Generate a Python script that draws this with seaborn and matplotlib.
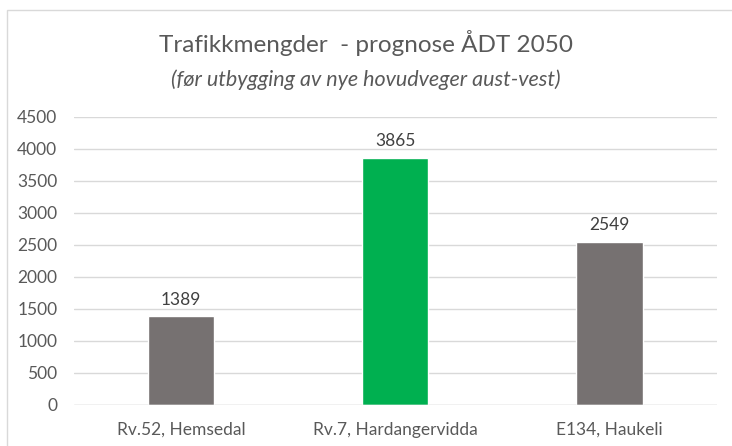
import matplotlib
matplotlib.use("Agg")
import matplotlib.pyplot as plt
import seaborn as sns
import pandas as pd
from matplotlib.patches import Rectangle

# data
strekninger = ["Rv.52, Hemsedal", "Rv.7, Hardangervidda", "E134, Haukeli"]
adt_2050 = [1389, 3865, 2549]
farger = ["#767171", "#00B050", "#767171"]
y_ticks = [0, 500, 1000, 1500, 2000, 2500, 3000, 3500, 4000, 4500]

df = pd.DataFrame({"strekning": strekninger, "adt": adt_2050})

sns.set_style("white")
plt.rcParams["font.family"] = ["Lato", "DejaVu Sans"]

fig = plt.figure(figsize=(7.32, 4.46), dpi=100)
ax = fig.add_axes([0.101, 0.092, 0.878, 0.646])

sns.barplot(data=df, x="strekning", y="adt", hue="strekning",
            palette=farger, width=0.31, saturation=1, legend=False, ax=ax)

for cont in ax.containers:
    ax.bar_label(cont, padding=6, fontsize=12.5, color="#404040")

ax.set_ylim(0, 4500)
ax.set_yticks(y_ticks)
ax.set_xlim(-0.5, 2.5)
ax.yaxis.grid(True, color="#d9d9d9", linewidth=1)
ax.set_axisbelow(True)
for s in ax.spines.values():
    s.set_visible(False)
ax.axhline(0, color="#d9d9d9", linewidth=1, zorder=3)
ax.tick_params(axis="both", length=0, labelsize=12.5, labelcolor="#595959")
ax.tick_params(axis="x", pad=12)
ax.tick_params(axis="y", pad=12)
ax.set_xlabel("")
ax.set_ylabel("")

# titler
fig.text(0.5, 0.903, "Trafikkmengder  - prognose ÅDT 2050", ha="center", va="center",
         fontsize=17.5, color="#595959")
fig.text(0.5, 0.821, "(før utbygging av nye hovudveger aust-vest)", ha="center", va="center",
         fontsize=15.5, style="italic", color="#595959")

# ramme rundt diagrammet
fig.patches.append(Rectangle((7 / 732, -0.1), 1.0, 1.1 - 10 / 446, transform=fig.transFigure,
                             fill=False, edgecolor="#d9d9d9", linewidth=1))

fig.savefig("out.png", dpi=100)
